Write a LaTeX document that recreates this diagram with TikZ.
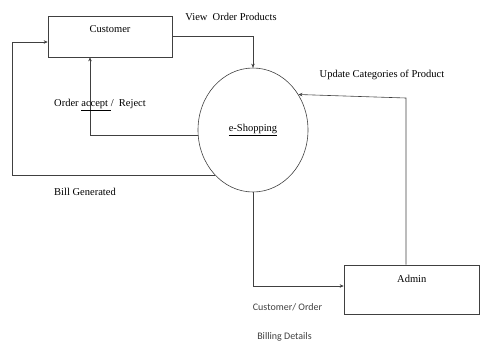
\documentclass[tikz,border=0pt]{standalone}
\usepackage{fontspec}
\setmainfont{Liberation Serif}
\newfontfamily\labelsans{Carlito}
\usetikzlibrary{shapes.geometric,arrows.meta,positioning,calc}

\tikzset{
    entity/.style={draw=black!75, line width=0.6pt, rectangle, inner sep=0pt},
    process/.style={draw=black!75, line width=0.6pt, ellipse, inner sep=0pt,
        minimum width=110pt, minimum height=124pt},
    flow/.style={draw=black!75, line width=0.6pt, -{Stealth[length=4pt,width=3.5pt]}},
    flowtext/.style={inner sep=0pt, font=\fontsize{10.5}{12}\selectfont},
    sanstext/.style={inner sep=0pt, font=\labelsans\fontsize{10}{12}\selectfont, text=black!75}
}

\begin{document}
\begin{tikzpicture}[x=1pt, y=-1pt]
    \useasboundingbox (0,0) rectangle (480,343);

    % External entities
    \node[entity, minimum width=124pt, minimum height=41pt, text height=6pt, text depth=15pt,
        font=\fontsize{10.5}{12}\selectfont] (Customer) at (110,36.5) {Customer};
    \node[entity, minimum width=135.5pt, minimum height=49pt, text height=6pt, text depth=21pt,
        font=\fontsize{10.5}{12}\selectfont] (Admin) at (411.75,289.5) {Admin};

    % Process
    \node[process, font=\fontsize{10.5}{12}\selectfont] (Shop) at (253,130) {\underline{e-Shopping}};

    % Corner points of the flows
    \coordinate (billx) at (12,0);
    \coordinate (updcorner) at (406,98);

    % Customer -> e-Shopping
    \draw[flow] (Customer.east) -| (Shop.north);
    \node[flowtext] (viewlbl) at (231,16.5) {View\ \ Order Products};

    % e-Shopping -> Customer
    \draw[flow] (Shop.186) -| ([xshift=-20pt]Customer.south);
    \node[flowtext] (orderlbl) at (100,105) {Order \underline{accept\ }/\ \ Reject};

    \draw[flow] (Shop.230) -- (Shop.230 -| billx) |- ([yshift=-5.5pt]Customer.west);
    \node[flowtext] (billlbl) at (85,191.5) {Bill Generated};

    % Admin -> e-Shopping
    \draw[flow] ([xshift=-5.75pt]Admin.north) -- (updcorner) -- (Shop.38);
    \node[flowtext] (updlbl) at (382,75) {Update Categories of Product};

    % e-Shopping -> Admin
    \draw[flow] (Shop.south) |- ([yshift=3.5pt]Admin.west);
    \node[sanstext] (custlbl) at (287.5,307.5) {Customer/ Order};
    \node[sanstext] (billinglbl) at (284.5,336.5) {Billing Details};

\end{tikzpicture}
\end{document}
